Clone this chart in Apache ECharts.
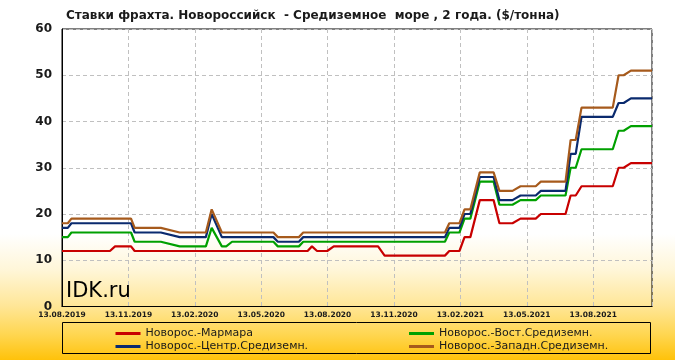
<!DOCTYPE html>
<html><head><meta charset="utf-8">
<script src="https://cdn.jsdelivr.net/npm/echarts@6/dist/echarts.min.js"></script>
<style>
html,body{margin:0;padding:0;background:#fff;}
#c{width:675px;height:360px;background:linear-gradient(to bottom,#ffffff 0%,#ffffff 65%,#fff6d8 75%,#ffe697 85%,#ffd650 93%,#ffc20a 100%);}
</style>
</head><body><div id="c"></div>
<script>
const titleText = 'Ставки фрахта. Новороссийск  - Средиземное  море , 2 года. ($/тонна)';
const seriesNames = ['Новорос.-Мармара', 'Новорос.-Вост.Средиземн.', 'Новорос.-Центр.Средиземн.', 'Новорос.-Западн.Средиземн.'];
const xTickLabels = ['13.08.2019','13.11.2019','13.02.2020','13.05.2020','13.08.2020','13.11.2020','13.02.2021','13.05.2021','13.08.2021'];
const dates = ['2019-08-13','2019-08-21','2019-08-26','2019-10-18','2019-10-25','2019-11-16','2019-11-21','2019-12-27','2020-01-22','2020-02-27','2020-03-06','2020-03-20','2020-03-26','2020-04-03','2020-05-30','2020-06-05','2020-07-04','2020-07-10','2020-07-16','2020-07-22','2020-07-29','2020-08-12','2020-08-21','2020-10-21','2020-10-30','2021-01-21','2021-01-27','2021-02-10','2021-02-17','2021-02-25','2021-03-10','2021-03-29','2021-04-06','2021-04-24','2021-05-05','2021-05-26','2021-06-02','2021-07-06','2021-07-13','2021-07-20','2021-07-28','2021-09-09','2021-09-17','2021-09-24','2021-10-04','2021-11-02'];
const marmara = [12,12,12,12,13,13,12,12,12,12,12,12,12,12,12,12,12,12,12,13,12,12,13,13,11,11,12,12,15,15,23,23,18,18,19,19,20,20,24,24,26,26,30,30,31,31];
const vost    = [15,15,16,16,16,16,14,14,13,13,17,13,13,14,14,13,13,14,14,14,14,14,14,14,14,14,16,16,19,19,27,27,22,22,23,23,24,24,30,30,34,34,38,38,39,39];
const centr   = [17,17,18,18,18,18,16,16,15,15,20,15,15,15,15,14,14,15,15,15,15,15,15,15,15,15,17,17,20,20,28,28,23,23,24,24,25,25,33,33,41,41,44,44,45,45];
const zapad   = [18,18,19,19,19,19,17,17,16,16,21,16,16,16,16,15,15,16,16,16,16,16,16,16,16,16,18,18,21,21,29,29,25,25,26,26,27,27,36,36,43,43,50,50,51,51];
const yTicks = [0,10,20,30,40,50,60];

function dayOf(s){
  const p = s.split('-').map(Number);
  return (Date.UTC(p[0],p[1]-1,p[2]) - Date.UTC(2019,7,13)) / 86400000;
}
const tickStep = dayOf('2021-08-13') / (xTickLabels.length - 1);
const xMax = dayOf(dates[dates.length-1]);
const colors = ['#c80000','#00a000','#0a2a6e','#a65a1c'];
const allVals = [marmara, vost, centr, zapad];

const FONT = 'DejaVu Sans';
const chart = echarts.init(document.getElementById('c'), null, {renderer:'canvas'});
chart.setOption({
  animation: false,
  backgroundColor: 'transparent',
  title: {
    text: titleText, left: 66, top: 10, padding: 0,
    textStyle: {fontFamily: FONT, fontSize: 12, fontWeight: 'bold', color: '#1a1a1a'}
  },
  grid: {left: 62, right: 23, top: 29, bottom: 53.5, show: true, borderColor: '#000', borderWidth: 1, backgroundColor: 'transparent'},
  xAxis: {
    type: 'value', min: 0, max: xMax, interval: tickStep,
    axisLine: {show: true, lineStyle: {color: '#000', width: 1}},
    axisTick: {show: false},
    axisLabel: {
      margin: 5, fontFamily: FONT, fontSize: 7.5, fontWeight: 'bold', color: '#1a1a1a',
      showMaxLabel: true, showMinLabel: true,
      formatter: function(v){
        const k = Math.round(v / tickStep);
        return (Math.abs(v - k*tickStep) < 0.5 && k < xTickLabels.length) ? xTickLabels[k] : '';
      }
    },
    splitLine: {show: true, lineStyle: {color: '#c0c0c0', type: [4,3], width: 1}}
  },
  yAxis: {
    type: 'value', min: yTicks[0], max: yTicks[yTicks.length-1], interval: yTicks[1]-yTicks[0],
    axisLine: {show: true, lineStyle: {color: '#000', width: 1}},
    axisTick: {show: false},
    axisLabel: {margin: 10, fontFamily: FONT, fontSize: 12, fontWeight: 'bold', color: '#1a1a1a'},
    splitLine: {show: true, lineStyle: {color: '#c0c0c0', type: [4,3], width: 1}}
  },
  legend: [
    {data: [seriesNames[0], seriesNames[2]], orient: 'vertical', left: 115.5, top: 327.5, padding: 0, itemGap: 1,
     icon: 'rect', itemWidth: 25, itemHeight: 3,
     textStyle: {fontFamily: FONT, fontSize: 11, color: '#1a1a1a', lineHeight: 12}},
    {data: [seriesNames[1], seriesNames[3]], orient: 'vertical', left: 409, top: 327.5, padding: 0, itemGap: 1,
     icon: 'rect', itemWidth: 25, itemHeight: 3,
     textStyle: {fontFamily: FONT, fontSize: 11, color: '#1a1a1a', lineHeight: 12}}
  ],
  graphic: [
    {type: 'rect', shape: {x: 62.5, y: 322.5, width: 588, height: 31}, style: {fill: 'none', stroke: '#000', lineWidth: 1}, silent: true},
    {type: 'text', left: 66, top: 281, style: {text: 'IDK.ru', font: '21px "DejaVu Sans"', fill: '#000'}, silent: true, z: 10}
  ],
  series: allVals.map((vals, s) => ({
    name: seriesNames[s], type: 'line', symbol: 'none',
    lineStyle: {width: 2.2, color: colors[s]}, itemStyle: {color: colors[s]},
    data: dates.map((d, i) => [dayOf(d), vals[i]])
  }))
});
</script></body></html>
